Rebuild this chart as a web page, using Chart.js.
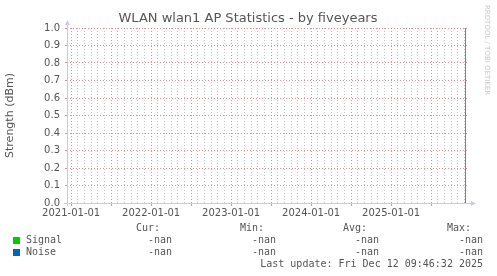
<!DOCTYPE html>
<html>
<head>
<meta charset="utf-8">
<script src="https://cdn.jsdelivr.net/npm/chart.js@4/dist/chart.umd.min.js"></script>
<style>
  html, body { margin: 0; padding: 0; background: #fff; }
  #wrap { width: 497px; height: 276px; position: relative; }
</style>
</head>
<body>
<div id="wrap"><canvas id="chart" width="497" height="276"></canvas></div>
<script>
// time range: five years ending at last update (fractional years)
const rangeStart = 2020 + 346 / 365;
const rangeEnd = 2025 + 346 / 365;
const yearLabels = ['2021-01-01', '2022-01-01', '2023-01-01', '2024-01-01', '2025-01-01'];
const yTicks = [0.0, 0.1, 0.2, 0.3, 0.4, 0.5, 0.6, 0.7, 0.8, 0.9, 1.0];

// series (no data recorded -> nan)
const seriesNames = ['Signal', 'Noise'];
const seriesColors = ['#00cc00', '#0066b3'];
const signalValues = [];
const noiseValues = [];
const legendCur = ['-nan', '-nan'];
const legendMin = ['-nan', '-nan'];
const legendAvg = ['-nan', '-nan'];
const legendMax = ['-nan', '-nan'];
const lastUpdate = 'Last update: Fri Dec 12 09:46:32 2025';

const textColor = '#555555';
const gridMinor = 'rgba(170,170,170,0.7)';
const gridMajor = 'rgba(230,110,110,0.8)';
const axisColor = '#c8c8f0';

const monthTicks = [];
for (let y = 2020; y <= 2026; y++) {
    for (let m = 0; m < 12; m++) {
        const v = y + m / 12;
        if (v >= rangeStart && v <= rangeEnd) monthTicks.push({ value: v, y: y, m: m });
    }
}

const extras = {
    id: 'rrdExtras',
    beforeDraw(chart) {
        const ctx = chart.ctx;
        ctx.save();
        ctx.fillStyle = '#ffffff';
        ctx.fillRect(0, 0, chart.width, chart.height);
        ctx.restore();
    },
    afterDraw(chart) {
        const ctx = chart.ctx;
        const a = chart.chartArea;
        ctx.save();
        // right frame line
        ctx.strokeStyle = '#808080';
        ctx.lineWidth = 1;
        ctx.beginPath();
        ctx.moveTo(a.right - 1.5, a.top);
        ctx.lineTo(a.right - 1.5, a.bottom);
        ctx.stroke();
        // axes with arrows
        ctx.strokeStyle = axisColor;
        ctx.fillStyle = axisColor;
        ctx.beginPath();
        ctx.moveTo(a.left + 0.5, a.bottom + 3);
        ctx.lineTo(a.left + 0.5, a.top - 4);
        ctx.moveTo(a.left - 3, a.bottom + 0.5);
        ctx.lineTo(a.right + 4, a.bottom + 0.5);
        ctx.stroke();
        ctx.beginPath();
        ctx.moveTo(a.left - 2, a.top - 3);
        ctx.lineTo(a.left + 3, a.top - 3);
        ctx.lineTo(a.left + 0.5, a.top - 8);
        ctx.fill();
        ctx.beginPath();
        ctx.moveTo(a.right + 4, a.bottom - 2);
        ctx.lineTo(a.right + 4, a.bottom + 3);
        ctx.lineTo(a.right + 9, a.bottom + 0.5);
        ctx.fill();

        // title
        ctx.fillStyle = textColor;
        ctx.font = '13px "DejaVu Sans"';
        ctx.textAlign = 'center';
        ctx.textBaseline = 'middle';
        ctx.fillText('WLAN wlan1 AP Statistics - by fiveyears', 248, 19);

        // watermark
        ctx.save();
        ctx.translate(487, 5);
        ctx.rotate(Math.PI / 2);
        ctx.fillStyle = '#c8c8c8';
        ctx.font = '7px "DejaVu Sans"';
        ctx.textAlign = 'left';
        ctx.textBaseline = 'middle';
        ctx.fillText('RRDTOOL / TOBI OETIKER', 0, 0);
        ctx.restore();

        // legend
        ctx.font = '10px "DejaVu Sans Mono"';
        ctx.fillStyle = textColor;
        ctx.textBaseline = 'middle';
        ctx.textAlign = 'left';
        ctx.fillText('Cur:', 136, 228);
        ctx.fillText('Min:', 240, 228);
        ctx.fillText('Avg:', 343, 228);
        ctx.fillText('Max:', 447, 228);
        seriesNames.forEach(function(name, i) {
            const yy = 240 + i * 12;
            ctx.fillStyle = seriesColors[i];
            ctx.fillRect(13, yy - 3, 7, 7);
            ctx.fillStyle = textColor;
            ctx.textAlign = 'left';
            ctx.fillText(name, 26, yy);
            ctx.textAlign = 'right';
            ctx.fillText(legendCur[i], 172, yy);
            ctx.fillText(legendMin[i], 276, yy);
            ctx.fillText(legendAvg[i], 379, yy);
            ctx.fillText(legendMax[i], 483, yy);
        });
        ctx.textAlign = 'right';
        ctx.fillText(lastUpdate, 483, 264);
        ctx.restore();
    }
};

const ctx = document.getElementById('chart').getContext('2d');
const chart = new Chart(ctx, {
    type: 'line',
    data: {
        datasets: [{
            label: seriesNames[0],
            data: signalValues,
            borderColor: seriesColors[0],
            backgroundColor: seriesColors[0]
        }, {
            label: seriesNames[1],
            data: noiseValues,
            borderColor: seriesColors[1],
            backgroundColor: seriesColors[1]
        }]
    },
    plugins: [extras],
    options: {
        responsive: false,
        animation: false,
        events: [],
        layout: { padding: { left: 0, top: 28, right: 30, bottom: 0 } },
        plugins: { legend: { display: false }, tooltip: { enabled: false } },
        scales: {
            x: {
                type: 'linear',
                min: rangeStart,
                max: rangeEnd,
                afterFit: function(s) { s.height = 73; },
                afterBuildTicks: function(s) {
                    s.ticks = monthTicks.map(function(t) { return { value: t.value }; });
                },
                border: { display: false, dash: [1, 2] },
                grid: {
                    drawOnChartArea: true,
                    tickLength: 3,
                    lineWidth: 1,
                    color: function(c) {
                        const t = monthTicks[c.index];
                        return t && t.m % 6 === 0 ? gridMajor : gridMinor;
                    },
                    tickColor: function(c) {
                        const t = monthTicks[c.index];
                        return t && t.m % 6 === 0 ? gridMajor : 'rgba(0,0,0,0)';
                    }
                },
                ticks: {
                    autoSkip: false,
                    maxRotation: 0,
                    padding: 1,
                    color: textColor,
                    font: { family: 'DejaVu Sans', size: 10 },
                    callback: function(v, i) {
                        const t = monthTicks[i];
                        if (t && t.m === 0) return yearLabels[t.y - 2021] || '';
                        return '';
                    }
                }
            },
            y: {
                min: 0,
                max: 1,
                afterFit: function(s) { s.width = 67; },
                afterBuildTicks: function(s) {
                    s.ticks = yTicks.map(function(v) { return { value: v }; });
                },
                border: { display: false, dash: [1, 2] },
                grid: {
                    color: gridMajor,
                    tickColor: gridMajor,
                    tickLength: 2
                },
                ticks: {
                    padding: 5,
                    color: textColor,
                    font: { family: 'DejaVu Sans', size: 10 },
                    callback: function(v) { return Number(v).toFixed(1); }
                },
                title: {
                    display: true,
                    text: 'Strength (dBm)',
                    color: textColor,
                    font: { family: 'DejaVu Sans', size: 11 },
                    padding: { top: 4, bottom: 0 }
                }
            }
        }
    }
});
</script>
</body>
</html>
